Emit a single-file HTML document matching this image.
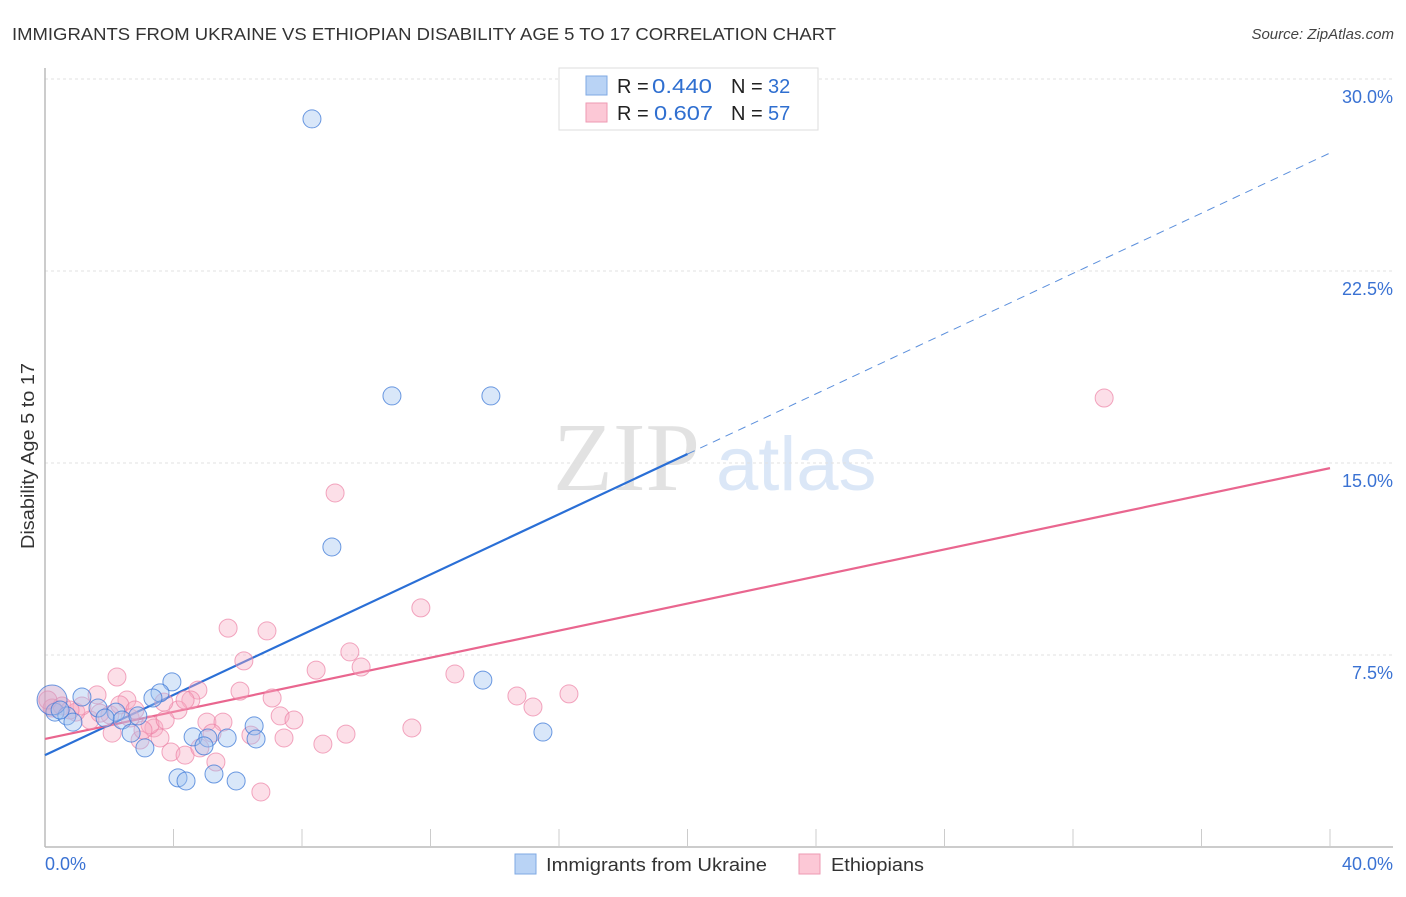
<!DOCTYPE html>
<html><head><meta charset="utf-8"><style>
body{margin:0;background:#fff;font-family:"Liberation Sans",sans-serif}
svg text{font-family:"Liberation Sans",sans-serif}
</style></head><body>
<svg id="chart" width="1406" height="892" viewBox="0 0 1406 892" xmlns="http://www.w3.org/2000/svg">
<text x="12" y="40" font-size="17.5" fill="#333" textLength="824" lengthAdjust="spacingAndGlyphs">IMMIGRANTS FROM UKRAINE VS ETHIOPIAN DISABILITY AGE 5 TO 17 CORRELATION CHART</text>
<text x="1394" y="39" font-size="15" fill="#444" font-style="italic" text-anchor="end">Source: ZipAtlas.com</text>
<g>
<text x="553" y="490" font-size="98" fill="#e2e2e2" style="font-family:'Liberation Serif',serif">ZIP</text>
<text x="716" y="490" font-size="76" fill="#dbe7f7">atlas</text>
</g>
<g id="grid"></g>
<g id="axes"></g>
<text transform="translate(34,456) rotate(-90)" font-size="18" fill="#333" text-anchor="middle" textLength="186" lengthAdjust="spacingAndGlyphs">Disability Age 5 to 17</text>
<g id="lines"></g>
<g id="points"></g>
<g>
<rect x="559" y="68" width="259" height="62" fill="#fff" stroke="#ddd"/>
<rect x="586" y="76" width="21" height="19" fill="#b9d3f5" stroke="#7fa9e3"/>
<rect x="586" y="103" width="21" height="19" fill="#fcc8d6" stroke="#ee9ab3"/>
<text x="617" y="93" font-size="20" fill="#222">R = <tspan x="652" fill="#2f6fd0" textLength="60" lengthAdjust="spacingAndGlyphs">0.440</tspan><tspan x="731">N = </tspan><tspan x="768" fill="#2f6fd0">32</tspan></text>
<text x="617" y="120" font-size="20" fill="#222">R = <tspan x="654" fill="#2f6fd0" textLength="59" lengthAdjust="spacingAndGlyphs">0.607</tspan><tspan x="731">N = </tspan><tspan x="768" fill="#2f6fd0">57</tspan></text>
</g>
<g>
<rect x="515" y="854" width="21" height="20" fill="#b9d3f5" stroke="#7fa9e3"/>
<text x="546" y="871" font-size="18.5" fill="#333" textLength="221" lengthAdjust="spacingAndGlyphs">Immigrants from Ukraine</text>
<rect x="799" y="854" width="21" height="20" fill="#fcc8d6" stroke="#ee9ab3"/>
<text x="831" y="871" font-size="18.5" fill="#333" textLength="93" lengthAdjust="spacingAndGlyphs">Ethiopians</text>
</g>
</svg>
<script>
const xTicks=[0,40];
const xTickLabels=["0.0%","40.0%"];
const yTicks=[7.5,15,22.5,30];
const yTickLabels=["7.5%","15.0%","22.5%","30.0%"];
const ukraineX=[8.31,10.80,13.88,8.93,13.63,15.50,3.95,3.58,3.36,1.15,1.65,0.31,0.68,0.87,2.21,2.40,2.89,2.68,3.11,4.61,5.07,5.67,6.51,6.57,4.95,4.14,4.39,5.26,5.95,0.22,1.87,0.47];
const ukraineY=[28.44,17.62,17.62,11.72,6.52,4.49,6.45,6.02,5.82,5.86,5.43,5.27,5.12,4.88,5.27,4.96,5.12,4.45,3.87,4.30,4.26,4.26,4.73,4.22,3.95,2.70,2.58,2.85,2.58,5.74,5.04,5.35];
const ethX=[32.97,9.03,11.70,5.70,6.91,9.49,6.19,9.84,8.44,2.24,12.76,16.31,14.69,15.19,1.62,2.55,4.76,4.54,6.07,7.07,4.14,7.32,7.75,5.04,5.54,5.20,6.41,7.44,8.65,9.37,11.42,3.92,4.36,5.32,6.72,3.39,3.58,2.96,2.09,1.40,0.96,0.22,0.53,1.15,3.27,2.65,3.70,2.02,1.71,4.82,0.09,0.78,2.33,3.05,4.36,3.74,2.80];
const ethY=[17.54,13.83,9.34,8.55,8.44,7.62,7.27,7.03,6.91,6.64,6.76,5.98,5.90,5.47,5.94,5.74,6.13,5.74,6.09,5.82,5.35,5.12,4.96,4.88,4.88,4.45,4.37,4.26,4.02,4.41,4.65,3.71,3.59,3.32,2.15,4.65,4.26,4.18,4.45,4.96,5.27,5.43,5.51,5.51,4.77,5.04,5.66,5.16,5.23,3.87,5.74,5.35,5.55,4.57,5.74,4.96,5.35];
const bigIdxUkraine=[29];
const ukraineTrend=[3.59,27.11];
const ethTrend=[4.22,14.80];
const ukraineSolidEnd=20;

const NS="http://www.w3.org/2000/svg";
const X0=45,X1=1330,Y0=847,YT=79;
const sx=v=>X0+v/40*(X1-X0);
const sy=v=>Y0-v/30*(Y0-YT);
function mk(tag,attrs,parent){const e=document.createElementNS(NS,tag);for(const k in attrs)e.setAttribute(k,attrs[k]);parent.appendChild(e);return e;}
const grid=document.getElementById('grid'),axes=document.getElementById('axes');
yTicks.forEach((t,i)=>{
  const g=mk('line',{x1:X0,x2:1393,y1:sy(t),y2:sy(t),stroke:'#e0e0e0','stroke-dasharray':'3,3'},grid);
  
  
  const l=mk('text',{x:1393,y:sy(t)+24,'font-size':18,fill:'#3a72d3','text-anchor':'end'},axes);
  l.textContent=yTickLabels[i];
  
  
});
mk('line',{x1:X0,x2:X0,y1:68,y2:Y0,stroke:'#bbb','stroke-width':1.5},axes);
mk('line',{x1:X0,x2:1393,y1:Y0,y2:Y0,stroke:'#bbb','stroke-width':1.5},axes);
for(let i=1;i<=10;i++){const t=mk('line',{x1:sx(i*4),x2:sx(i*4),y1:829,y2:Y0,stroke:'#ccc'},axes);
  
  }
xTicks.forEach((t,i)=>{
  const l=mk('text',{x:i==0?45:1393,y:870,'font-size':18,fill:'#3a72d3','text-anchor':i==0?'start':'end'},axes);
  l.textContent=xTickLabels[i];
  
  
});
const pts=document.getElementById('points');
ethX.forEach((x,i)=>{
  const c=mk('circle',{cx:sx(x),cy:sy(ethY[i]),r:9,fill:'rgba(248,170,195,0.38)',stroke:'rgba(236,130,165,0.7)','stroke-width':1},pts);
  
  
});
ukraineX.forEach((x,i)=>{
  const big=bigIdxUkraine.includes(i);
  const c=mk('circle',{cx:sx(x),cy:sy(ukraineY[i]),r:big?15:9,fill:big?'rgba(200,160,200,0.45)':'rgba(160,195,240,0.4)',stroke:'rgba(60,120,215,0.75)','stroke-width':1},pts);
  
  
});
const lines=document.getElementById('lines');
const uy=x=>ukraineTrend[0]+(ukraineTrend[1]-ukraineTrend[0])*x/40;
const ey=x=>ethTrend[0]+(ethTrend[1]-ethTrend[0])*x/40;
let l1=mk('line',{x1:sx(0),y1:sy(uy(0)),x2:sx(ukraineSolidEnd),y2:sy(uy(ukraineSolidEnd)),stroke:'#2a6fd6','stroke-width':2.2},lines);


let l2=mk('line',{x1:sx(ukraineSolidEnd),y1:sy(uy(ukraineSolidEnd)),x2:sx(40),y2:sy(uy(40)),stroke:'#5b8fdc','stroke-width':1,'stroke-dasharray':'8,6'},lines);


let l3=mk('line',{x1:sx(0),y1:sy(ey(0)),x2:sx(40),y2:sy(ey(40)),stroke:'#e9668f','stroke-width':2.2},lines);


</script>
</body></html>
